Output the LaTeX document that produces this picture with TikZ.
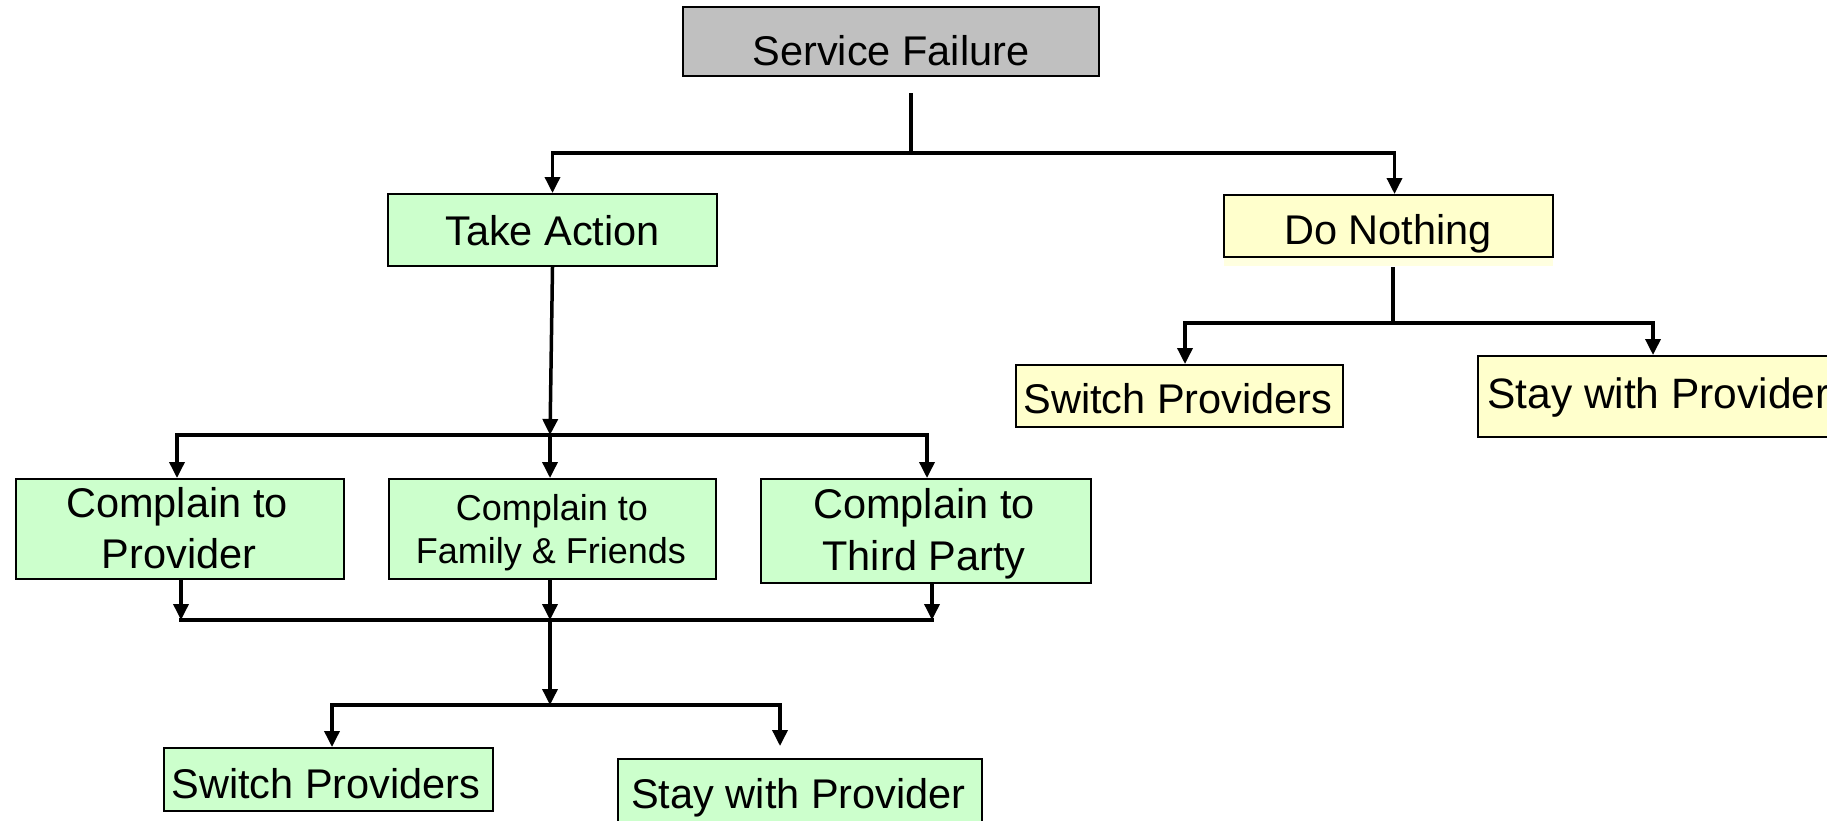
\documentclass[tikz,border=0pt]{standalone}
\usepackage{fontspec}
\setmainfont{Liberation Sans}
\usetikzlibrary{arrows.meta}
\definecolor{sfgray}{HTML}{C0C0C0}
\definecolor{actgreen}{HTML}{CCFFCC}
\definecolor{idleyellow}{HTML}{FFFFCC}
\definecolor{idlestrip}{HTML}{FFFFE0}

\begin{document}
\begin{tikzpicture}[x=1pt,y=-1pt,
  box/.style={draw=black, line width=2pt, inner sep=0pt, rectangle},
  lbl/.style={anchor=base, inner sep=0pt, font=\fontsize{41.5}{48}\selectfont},
  lblsmall/.style={anchor=base, inner sep=0pt, font=\fontsize{36}{42}\selectfont},
  link/.style={line width=3.5pt},
  bar/.style={line width=3.8pt, line cap=rect},
  arr/.style={line width=3.5pt, -{Triangle[length=16pt,width=15pt]}},
]
\useasboundingbox (0,0) rectangle (1827,820);

% ---- boxes ----
\node[box, fill=sfgray, minimum width=416pt, minimum height=69pt] (sf) at (891,41.5) {};
\node[box, fill=actgreen, minimum width=329pt, minimum height=72pt] (ta) at (552.5,230) {};
\fill[idlestrip] (1224,257) rectangle (1553,266);
\node[box, fill=idleyellow, minimum width=329pt, minimum height=62pt] (dn) at (1388.5,226) {};
\node[box, fill=idleyellow, minimum width=327pt, minimum height=62pt] (ysp) at (1179.5,396) {};
\node[box, fill=idleyellow, minimum width=362pt, minimum height=81pt] (yst) at (1659,396.5) {};
\node[box, fill=actgreen, minimum width=328pt, minimum height=100pt] (cp) at (180,529) {};
\node[box, fill=actgreen, minimum width=327pt, minimum height=100pt] (cff) at (552.5,529) {};
\node[box, fill=actgreen, minimum width=330pt, minimum height=104pt] (ctp) at (926,531) {};
\node[box, fill=actgreen, minimum width=329pt, minimum height=63pt] (gsp) at (328.5,779.5) {};
\node[box, fill=actgreen, minimum width=364pt, minimum height=71pt] (gst) at (800,794.5) {};

% ---- labels ----
\node[lbl] (sf-t) at (891,65) {Service Failure};
\node[lbl] (ta-t) at (552.5,245) {Take Action};
\node[lbl] (dn-t) at (1388,244) {Do Nothing};
\node[lbl] (ysp-t) at (1178,413) {Switch Providers};
\node[lbl, anchor=base west, font=\fontsize{42.5}{48}\selectfont] (yst-t) at (1487,408) {Stay with Provider};
\node[lbl] (cp-t1) at (177,517) {Complain to};
\node[lbl] (cp-t2) at (179,568) {Provider};
\node[lblsmall] (cff-t1) at (552,520) {Complain to};
\node[lblsmall] (cff-t2) at (551,563) {Family \& Friends};
\node[lbl] (ctp-t1) at (924,518) {Complain to};
\node[lbl] (ctp-t2) at (924,570) {Third Party};
\node[lbl] (gsp-t) at (326,798) {Switch Providers};
\node[lbl] (gst-t) at (798.5,808) {Stay with Provider};

% ---- junctions ----
\coordinate (j1) at (911,153);
\coordinate (j2) at (550,435);
\coordinate (j3L) at (181,620);
\coordinate (j3) at (550,620);
\coordinate (j3R) at (932,620);
\coordinate (j4) at (550,705);
\coordinate (j5) at (1393,323);

% ---- connectors ----
\draw[link, shorten <=16pt] (sf.south -| j1) -- (j1);
\draw[arr] (j1) -| (ta.north);
\draw[arr] (j1) -| ([xshift=6pt]dn.north);

\draw[arr] (ta.south) -- (j2);
\draw[arr] (j2) -| ([xshift=-3pt]cp.north);
\draw[arr] (j2) -- (j2 |- cff.north);
\draw[arr] (j2) -| ([xshift=1pt]ctp.north);
\draw[bar] ([xshift=-2pt]j2 -| cp.north) -- (j2);

\draw[arr] (cp.south -| j3L) -- (j3L);
\draw[arr] (cff.south -| j3) -- (j3);
\draw[arr] (ctp.south -| j3R) -- (j3R);
\draw[bar] (j3L) -- (j3R);

\draw[arr] (j3) -- (j4);
\draw[arr] (j4) -| ([xshift=3.5pt]gsp.north);
\draw[arr, shorten >=12pt] (j4) -| ([xshift=-20pt]gst.north);

\draw[link, shorten <=9pt] ([xshift=4.5pt]dn.south) -- (j5);
\draw[arr] (j5) -| ([xshift=5.5pt]ysp.north);
\draw[arr] (j5) -| ([xshift=-6pt]yst.north);
\end{tikzpicture}
\end{document}
